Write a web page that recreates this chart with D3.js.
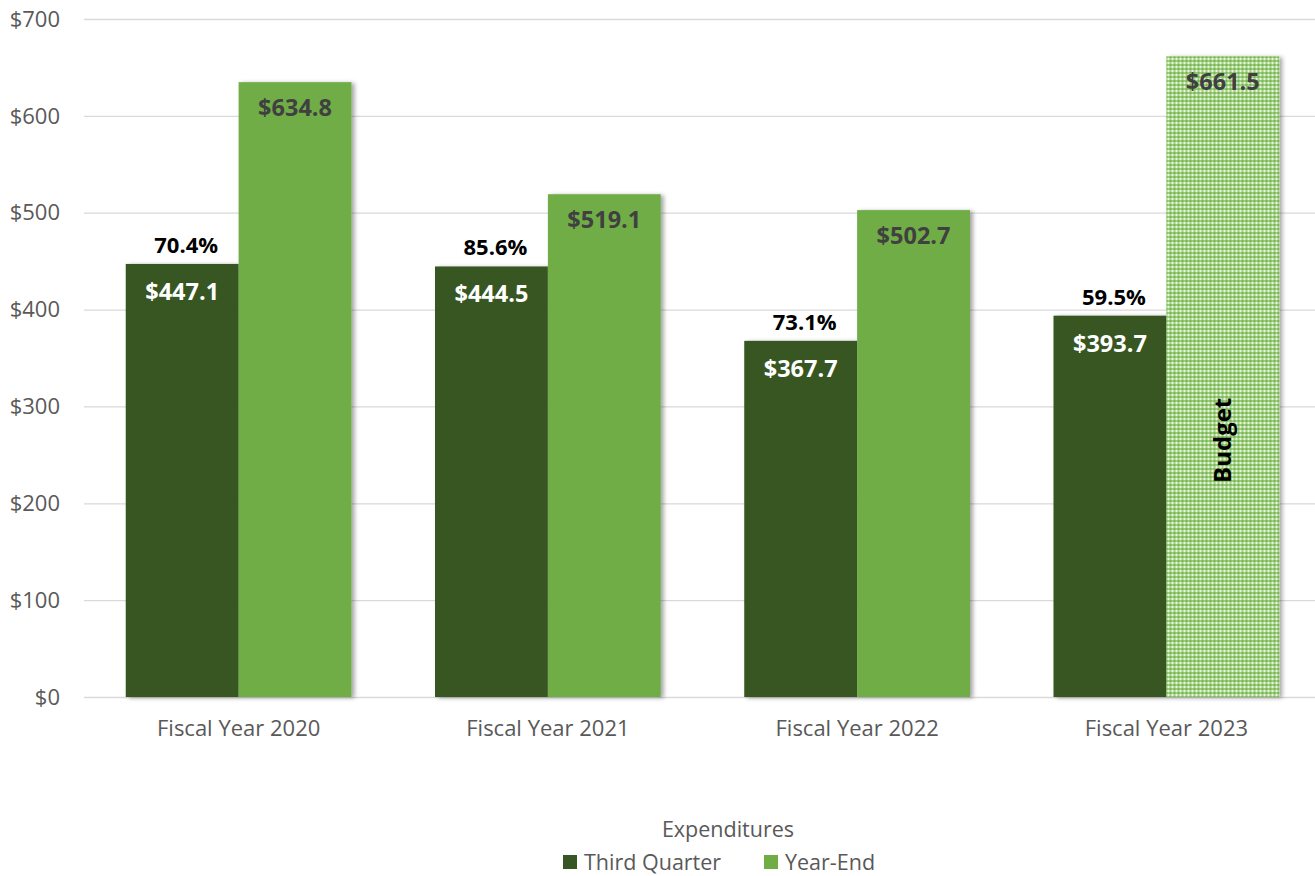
<!DOCTYPE html>
<html>
<head>
<meta charset="utf-8">
<script src="https://cdn.jsdelivr.net/npm/d3@7"></script>
<style>
  html, body { margin: 0; padding: 0; background: #fff; }
  svg { display: block; }
</style>
</head>
<body>
<svg id="chart" width="1315" height="876"></svg>
<script>
// Expenditures by fiscal year, in millions
const categories = ["Fiscal Year 2020", "Fiscal Year 2021", "Fiscal Year 2022", "Fiscal Year 2023"];
const thirdQuarter = [447.1, 444.5, 367.7, 393.7];
const yearEnd = [634.8, 519.1, 502.7, 661.5];
const percentSpent = ["70.4%", "85.6%", "73.1%", "59.5%"];
const budgetFlags = [false, false, false, true];
const yTicks = [0, 100, 200, 300, 400, 500, 600, 700];
const seriesNames = ["Third Quarter", "Year-End"];
const legendTitle = "Expenditures";

const DARK = "#375623";
const LIGHT = "#70ad47";
const FONT = "'Open Sans', 'Noto Sans', sans-serif";

const svg = d3.select("#chart");
const margin = { left: 84, right: -6, top: 19, bottom: 179 };
const W = 1315, H = 876;

const x = d3.scaleBand().domain(categories)
  .range([margin.left, W - margin.right]).paddingInner(0.27).paddingOuter(0.135);
const xs = d3.scaleBand().domain(seriesNames).range([0, x.bandwidth()]);
const y = d3.scaleLinear().domain([0, 700]).range([H - margin.bottom, margin.top]);

const defs = svg.append("defs");
// soft shadow to the right of each bar
const f = defs.append("filter").attr("id", "shadow")
  .attr("x", "-10%").attr("y", "-10%").attr("width", "130%").attr("height", "120%");
f.append("feDropShadow").attr("dx", 3).attr("dy", 1).attr("stdDeviation", 2.2)
  .attr("flood-color", "#000").attr("flood-opacity", 0.35);

// dotted fill for the budgeted year-end bar
const pat = defs.append("pattern").attr("id", "budgetPattern")
  .attr("patternUnits", "userSpaceOnUse").attr("width", 4).attr("height", 4);
pat.append("rect").attr("width", 4).attr("height", 4).attr("fill", "#a0cf81");
pat.append("rect").attr("x", 0).attr("y", 0).attr("width", 2).attr("height", 2).attr("fill", "#7ab753");
pat.append("rect").attr("x", 2).attr("y", 2).attr("width", 2).attr("height", 2).attr("fill", "#e6f3dd");

// gridlines and y axis labels
const yAxis = d3.axisLeft(y).tickValues(yTicks).tickFormat(d => "$" + d)
  .tickSize(-(W - margin.left)).tickPadding(24);
const gy = svg.append("g").attr("transform", `translate(${margin.left},0)`).call(yAxis);
gy.select(".domain").remove();
gy.selectAll(".tick line").attr("stroke", "#d9d9d9").attr("stroke-width", 1.3);
gy.selectAll(".tick text").attr("fill", "#595959").attr("font-size", 22)
  .attr("font-family", FONT).attr("dy", "0.33em");

// x axis labels
const xAxis = d3.axisBottom(x).tickSize(0).tickPadding(23);
const gx = svg.append("g").attr("transform", `translate(0,${y(0)})`).call(xAxis);
gx.select(".domain").remove();
gx.selectAll(".tick text").attr("fill", "#595959").attr("font-size", 22).attr("font-family", FONT);

const groups = svg.append("g").selectAll("g").data(categories).join("g")
  .attr("transform", d => `translate(${x(d)},0)`);

// third quarter bars
groups.append("rect")
  .attr("x", xs("Third Quarter"))
  .attr("y", (d, i) => y(thirdQuarter[i]))
  .attr("width", xs.bandwidth())
  .attr("height", (d, i) => y(0) - y(thirdQuarter[i]))
  .attr("fill", DARK).attr("filter", "url(#shadow)");

// year-end bars
groups.append("rect")
  .attr("x", xs("Year-End"))
  .attr("y", (d, i) => y(yearEnd[i]))
  .attr("width", xs.bandwidth())
  .attr("height", (d, i) => y(0) - y(yearEnd[i]))
  .attr("fill", (d, i) => budgetFlags[i] ? "url(#budgetPattern)" : LIGHT)
  .attr("filter", "url(#shadow)");

// value labels
groups.append("text")
  .attr("x", xs("Third Quarter") + xs.bandwidth() / 2)
  .attr("y", (d, i) => y(thirdQuarter[i]) + 36)
  .attr("text-anchor", "middle").attr("fill", "#fff")
  .attr("font-size", 23.5).attr("font-weight", "bold").attr("font-family", FONT)
  .text((d, i) => "$" + thirdQuarter[i].toFixed(1));

groups.append("text")
  .attr("x", xs("Year-End") + xs.bandwidth() / 2)
  .attr("y", (d, i) => y(yearEnd[i]) + 34)
  .attr("text-anchor", "middle").attr("fill", "#404040")
  .attr("font-size", 23.5).attr("font-weight", "bold").attr("font-family", FONT)
  .text((d, i) => "$" + yearEnd[i].toFixed(1));

// percent of year-end spent by third quarter
groups.append("text")
  .attr("x", xs("Third Quarter") + xs.bandwidth() / 2 + 4)
  .attr("y", (d, i) => y(thirdQuarter[i]) - 11)
  .attr("text-anchor", "middle").attr("fill", "#000")
  .attr("font-size", 22).attr("font-weight", "bold").attr("font-family", FONT)
  .text((d, i) => percentSpent[i]);

// "Budget" marker on the budgeted bar
groups.filter((d, i) => budgetFlags[i]).append("text")
  .attr("transform", () => {
    const cx = xs("Year-End") + xs.bandwidth() / 2 + 8;
    return `translate(${cx},${y(265)}) rotate(-90)`;
  })
  .attr("text-anchor", "middle").attr("fill", "#000")
  .attr("font-size", 24).attr("font-weight", "bold").attr("font-family", FONT)
  .text("Budget");

// legend
const legend = svg.append("g");
legend.append("text").attr("x", 728).attr("y", 837).attr("text-anchor", "middle")
  .attr("fill", "#595959").attr("font-size", 21.5).attr("font-family", FONT).text(legendTitle);
const items = [
  { name: seriesNames[0], color: DARK, x: 563 },
  { name: seriesNames[1], color: LIGHT, x: 764 }
];
const li = legend.selectAll("g.item").data(items).join("g").attr("class", "item")
  .attr("transform", d => `translate(${d.x},855)`);
li.append("rect").attr("width", 14).attr("height", 14).attr("fill", d => d.color);
li.append("text").attr("x", 21).attr("y", 15).attr("fill", "#595959")
  .attr("font-size", 21.5).attr("font-family", FONT).text(d => d.name);
</script>
</body>
</html>
